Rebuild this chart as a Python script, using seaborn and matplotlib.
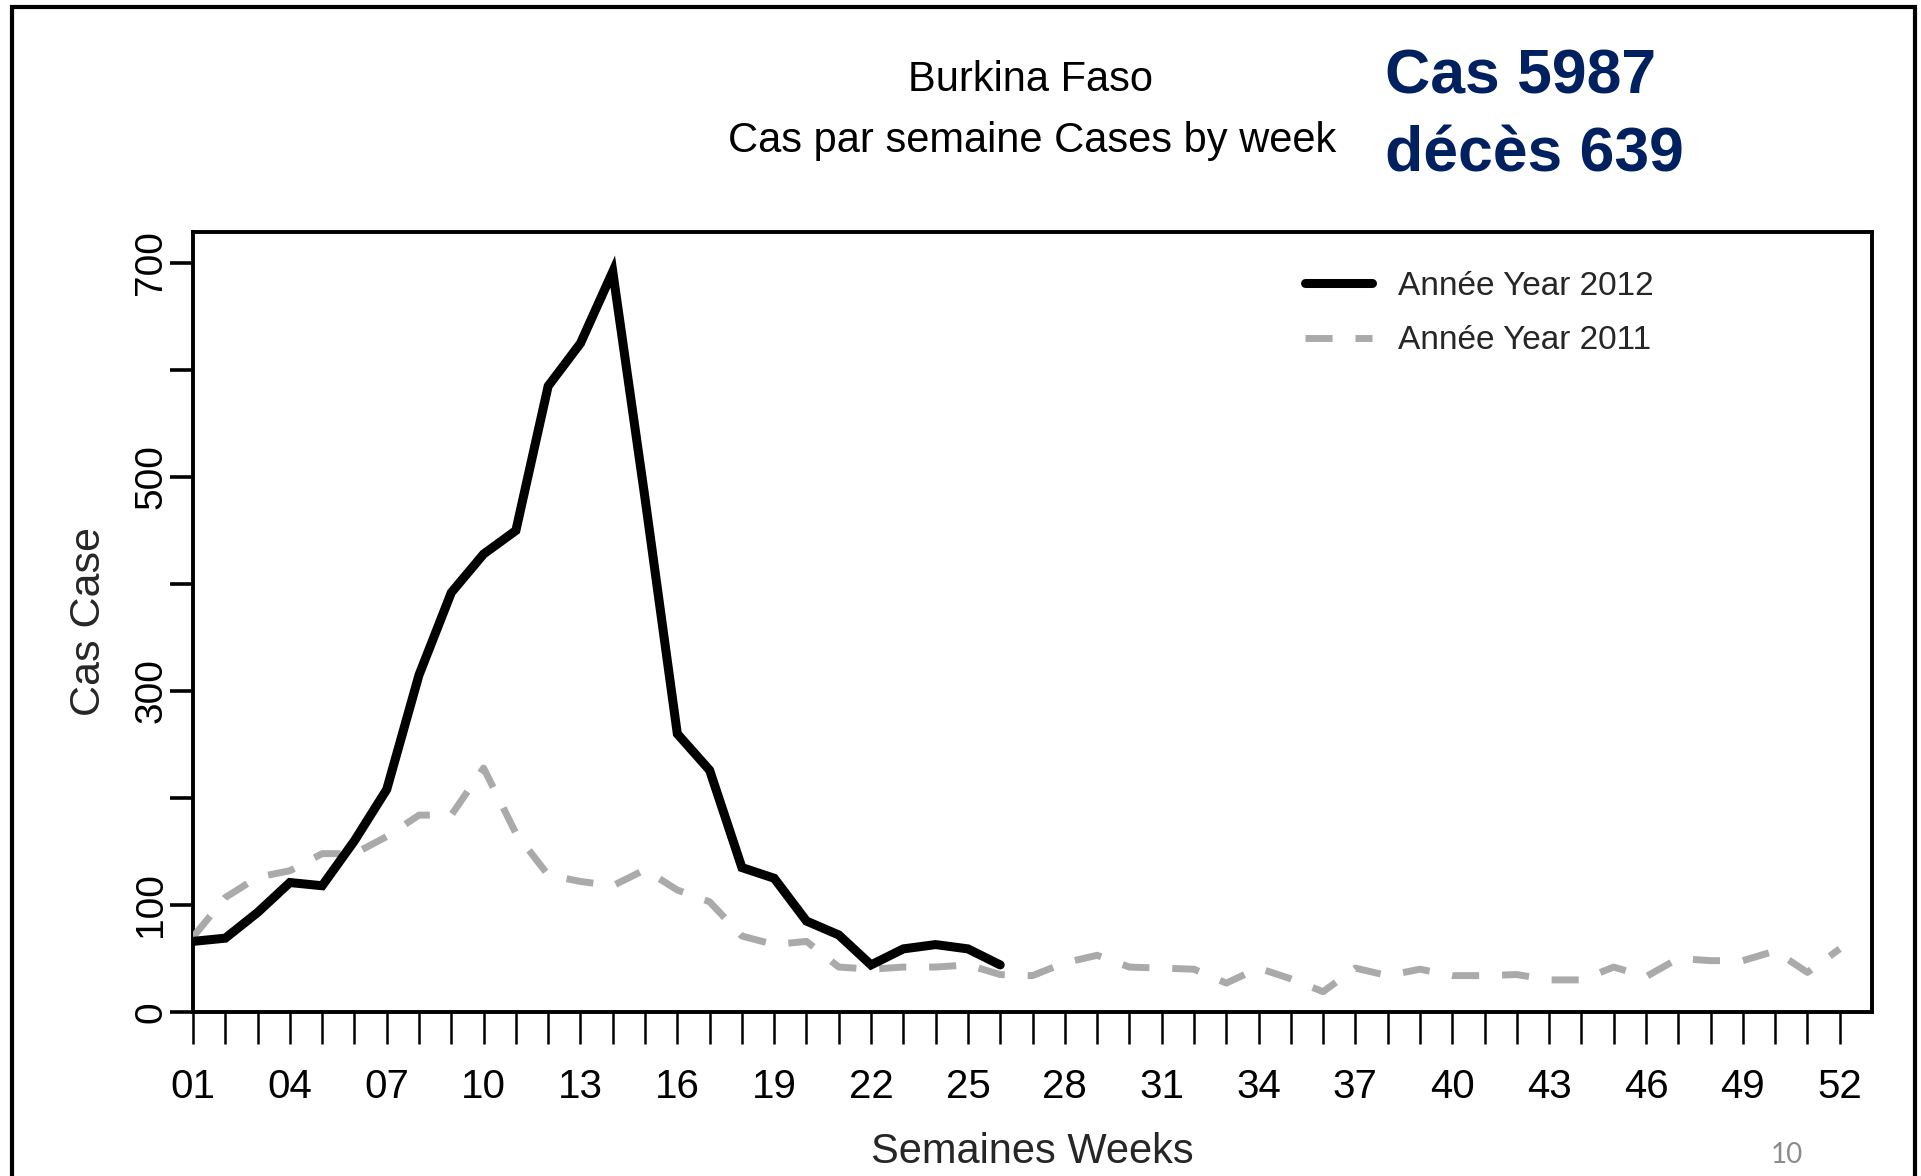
import numpy as np
import pandas as pd
import matplotlib
matplotlib.use("Agg")
import matplotlib.pyplot as plt
from matplotlib.patches import Rectangle
import seaborn as sns

# ---------------- data ----------------
weeks_2012 = list(range(1, 27))
cases_2012 = [66, 69, 93, 121, 118, 160, 208, 315, 392, 428, 450, 585, 625, 692,
              480, 260, 226, 135, 125, 85, 72, 44, 59, 63, 59, 44]
weeks_2011 = list(range(1, 53))
cases_2011 = [70, 107, 126, 132, 148, 148, 164, 184, 184, 228,
              167, 128, 122, 118, 133, 114, 103, 71, 63, 66,
              42, 40, 42, 42, 44, 35, 34, 46, 53, 42,
              41, 40, 27, 41, 31, 19, 41, 34, 40, 34,
              34, 35, 30, 30, 42, 33, 50, 48, 48, 57,
              37, 59]
series_labels = ["Année Year 2012", "Année Year 2011"]
y_ticks = [0, 100, 200, 300, 400, 500, 600, 700]
y_ticklabels = ["0", "100", "", "300", "", "500", "", "700"]
title_lines = ["Burkina Faso", "Cas par semaine Cases by week"]
summary_lines = ["Cas 5987", "décès 639"]
x_label = "Semaines Weeks"
y_label = "Cas Case"
page_number = "10"

df = pd.concat([
    pd.DataFrame({"week": weeks_2012, "cases": cases_2012, "year": series_labels[0]}),
    pd.DataFrame({"week": weeks_2011, "cases": cases_2011, "year": series_labels[1]}),
], ignore_index=True)

# ---------------- style ----------------
sns.set_style("white")
REG = ["Liberation Sans", "DejaVu Sans"]
plt.rcParams["font.family"] = REG

W, H = 1921, 1176
fig = plt.figure(figsize=(W / 100, H / 100), dpi=100)
fig.patch.set_facecolor("white")

ax_l, ax_r, ax_t, ax_b = 193, 1872, 232, 1012
ax = fig.add_axes([ax_l / W, 1 - ax_b / H, (ax_r - ax_l) / W, (ax_b - ax_t) / H])

sns.lineplot(data=df, x="week", y="cases", hue="year", style="year",
             hue_order=series_labels, style_order=series_labels,
             palette={series_labels[0]: "black", series_labels[1]: "#aaaaaa"},
             dashes={series_labels[0]: "", series_labels[1]: (3.9, 3.3)},
             legend=False, ax=ax)

l2012, l2011 = ax.lines[0], ax.lines[1]
l2012.set_linewidth(6.5)
l2012.set_zorder(4)
l2012.set_solid_joinstyle("miter")
l2011.set_linewidth(5)
l2011.set_dashes((3.9, 3.3))
l2011.set_zorder(3)
l2011.set_dash_capstyle("butt")

ax.set_xlim(1, 53)
ax.set_ylim(0, 729)

ax.set_xticks(range(1, 53))
ax.set_xticklabels([f"{w:02d}" if (w - 1) % 3 == 0 else "" for w in range(1, 53)])
ax.set_yticks(y_ticks)
ax.set_yticklabels(y_ticklabels, rotation=90, va="center", fontsize=28)

ax.tick_params(axis="x", bottom=True, direction="out", length=23, width=1.8, pad=17,
               labelsize=29, colors="black")
ax.tick_params(axis="y", left=True, direction="out", length=16.5, width=2.6, pad=0.5,
               colors="black")

for s in ax.spines.values():
    s.set_linewidth(2.8)
    s.set_color("black")
    s.set_visible(True)

ax.set_xlabel(x_label, fontsize=30)
ax.xaxis.set_label_coords(0.5, -0.154)
ax.set_ylabel(y_label, fontsize=31)
ax.yaxis.set_label_coords(-0.050, 0.5)

leg = ax.legend(handles=[l2012, l2011], labels=series_labels,
                loc="upper left", bbox_to_anchor=(1305 / W, 1 - 271 / H),
                bbox_transform=fig.transFigure, frameon=False,
                prop={"size": 24}, handlelength=2.0,
                handletextpad=0.78, labelspacing=0.70, borderpad=0,
                borderaxespad=0)

# titles
fig.text(1030 / W, 1 - 91 / H, title_lines[0], ha="center", va="baseline",
         fontsize=30, color="black")
fig.text(1032 / W, 1 - 152 / H, title_lines[1], ha="center", va="baseline",
         fontsize=30, color="black")
fig.text(1385 / W, 1 - 94 / H, summary_lines[0], ha="left", va="baseline",
         fontsize=45, fontweight="bold", color="#002060")
fig.text(1385 / W, 1 - 171 / H, summary_lines[1], ha="left", va="baseline",
         fontsize=45, fontweight="bold", color="#002060")
fig.text(1787 / W, 1 - 1163 / H, page_number, ha="center", va="baseline",
         fontsize=20, family=["Lato", "Liberation Sans"], color="#8c8c8c")

# outer slide frame
fig.patches.append(Rectangle((11.5 / W, -0.05), (1915 - 11.5) / W, 1.05 - 7 / H,
                             transform=fig.transFigure, fill=False,
                             edgecolor="black", linewidth=3, zorder=10))

fig.savefig("out.png", dpi=100, facecolor="white")
